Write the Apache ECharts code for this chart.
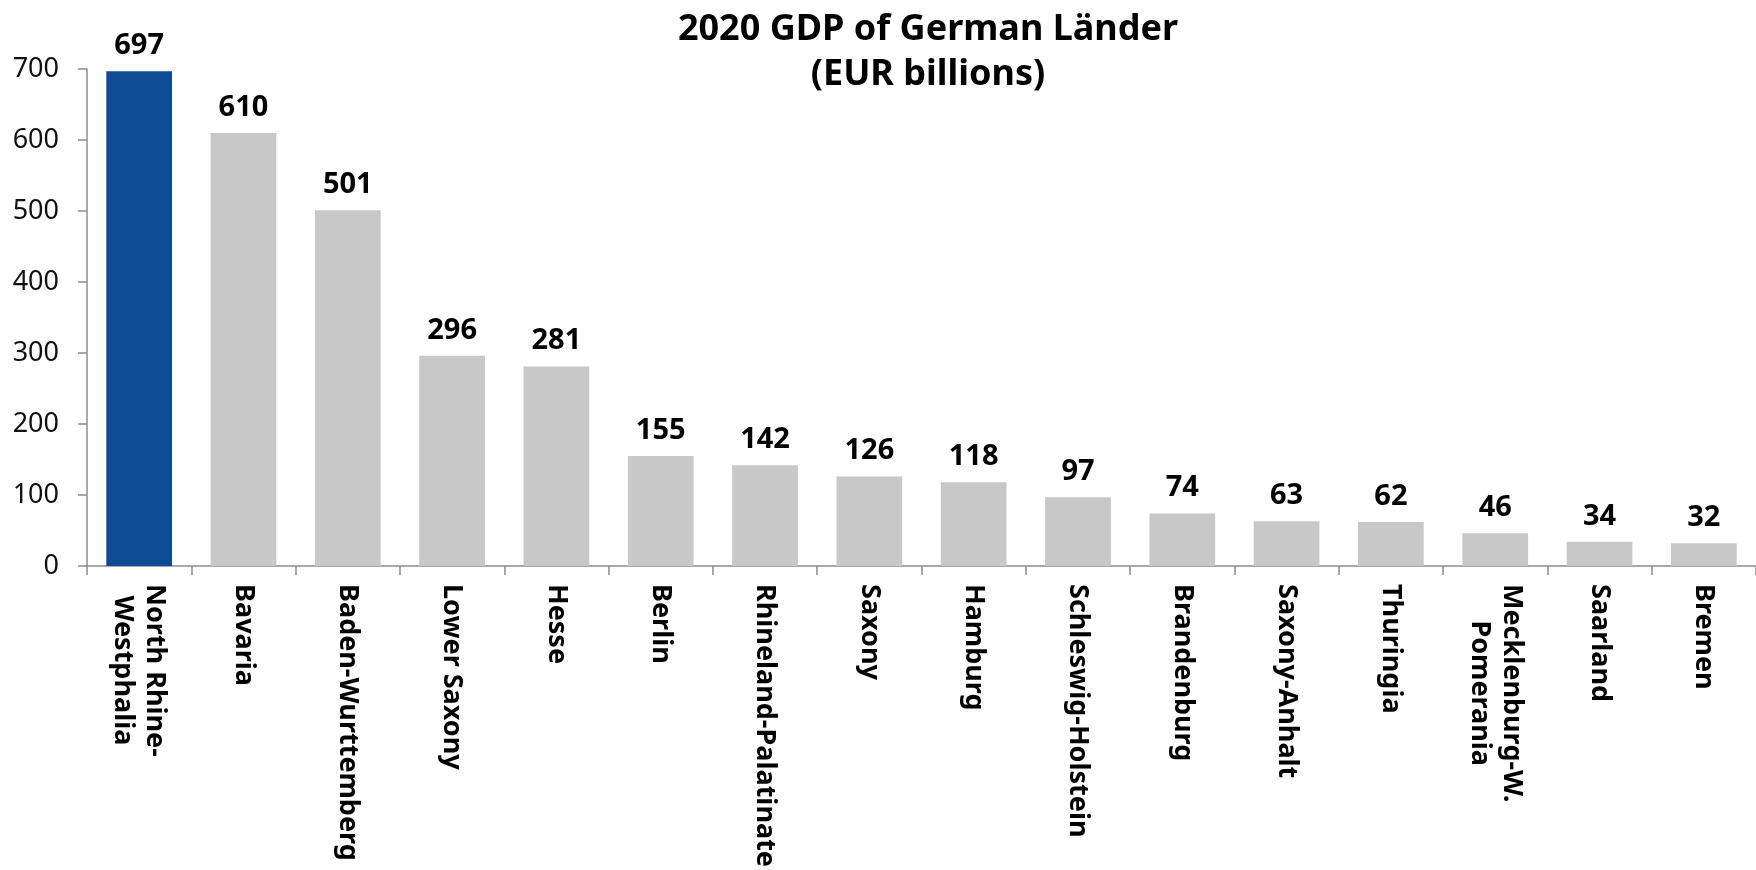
<!DOCTYPE html>
<html><head><meta charset="utf-8">
<script src="https://cdn.jsdelivr.net/npm/echarts@6/dist/echarts.min.js"></script>
<style>html,body{margin:0;padding:0;background:#fff}#c{width:1756px;height:870px}</style>
</head><body><div id="c"></div>
<script>
const categories = ["North Rhine-\nWestphalia","Bavaria","Baden-Wurttemberg","Lower Saxony","Hesse","Berlin","Rhineland-Palatinate","Saxony","Hamburg","Schleswig-Holstein","Brandenburg","Saxony-Anhalt","Thuringia","Mecklenburg-W.\nPomerania","Saarland","Bremen"];
const gdp = [697,610,501,296,281,155,142,126,118,97,74,63,62,46,34,32];
const yTicks = [0,100,200,300,400,500,600,700];
const highlightIndex = 0;

const FONT = '"Noto Sans", sans-serif';
const chart = echarts.init(document.getElementById('c'));
chart.setOption({
  animation: false,
  title: {
    text: '2020 GDP of German Länder\n(EUR billions)',
    left: 923, top: 2, textAlign: 'center',
    textStyle: {fontFamily: FONT, fontSize: 36, fontWeight: 'bold', color: '#000', lineHeight: 45}
  },
  grid: {left: 87, right: -4, top: 69, bottom: 304, containLabel: false},
  xAxis: {
    type: 'category', data: categories,
    axisLine: {lineStyle: {color: '#8c8c8c', width: 1.5}},
    axisTick: {show: true, alignWithLabel: false, length: 9, lineStyle: {color: '#8c8c8c', width: 1.5}},
    axisLabel: {
      rotate: -90, interval: 0, margin: 18,
      fontFamily: FONT, fontSize: 27, fontWeight: 'bold', color: '#000',
      formatter: v => v.split('\n').map(l => '{c|' + l + '}').join('\n'),
      rich: {c: {align: 'center', fontFamily: FONT, fontSize: 27, fontWeight: 'bold', color: '#000', lineHeight: 32}}
    }
  },
  yAxis: {
    type: 'value', min: yTicks[0], max: yTicks[yTicks.length-1], interval: 100,
    splitLine: {show: false},
    axisLine: {show: true, lineStyle: {color: '#8c8c8c', width: 1.5}},
    axisTick: {show: true, length: 9, lineStyle: {color: '#8c8c8c', width: 1.5}},
    axisLabel: {fontFamily: FONT, fontSize: 27, color: '#111', margin: 28}
  },
  series: [{
    type: 'bar', barWidth: '63%',
    data: gdp.map((v, i) => ({value: v, itemStyle: {color: i === highlightIndex ? '#0f4c96' : '#c8c8c8'}})),
    label: {show: true, position: 'top', distance: 11, fontFamily: FONT, fontSize: 29, fontWeight: 'bold', color: '#000'}
  }]
});
</script></body></html>
